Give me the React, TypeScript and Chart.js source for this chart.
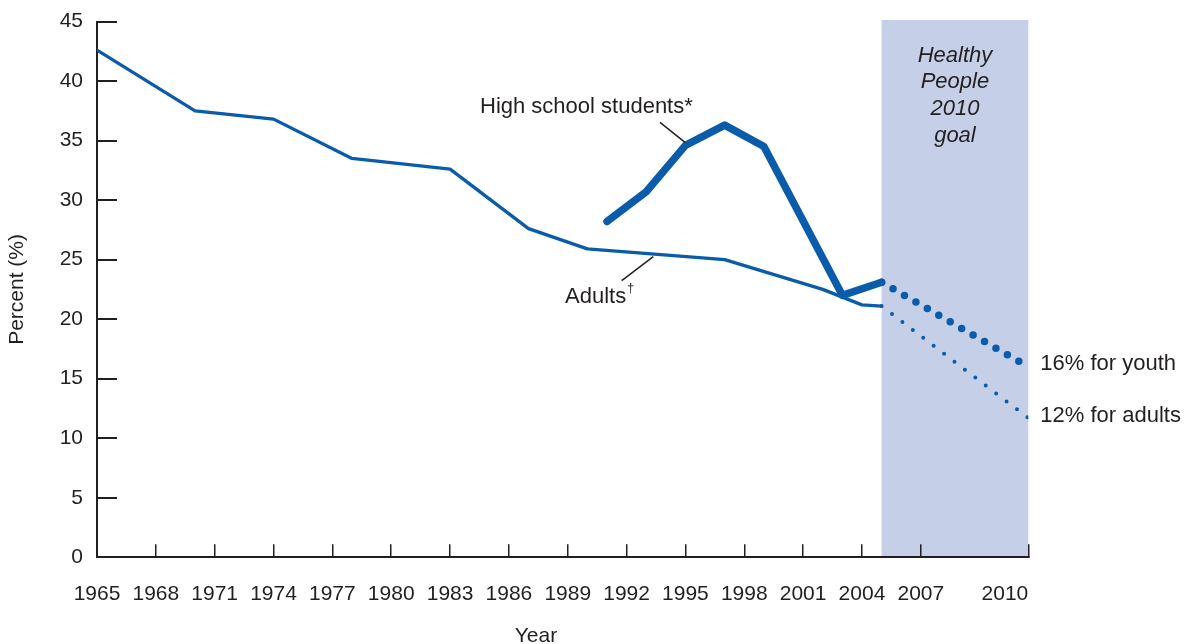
import React, { useEffect, useRef } from "react";
import { Chart, registerables, LinearScale } from "chart.js";

// ---------- data ----------
const ADULT_YEARS = [1965, 1970, 1974, 1978, 1983, 1987, 1990, 1997, 2002, 2004, 2005];
const ADULT_VALUES = [42.6, 37.5, 36.8, 33.5, 32.6, 27.6, 25.9, 25.0, 22.5, 21.2, 21.1];

const HS_YEARS = [1991, 1993, 1995, 1997, 1999, 2003, 2005];
const HS_VALUES = [28.2, 30.7, 34.6, 36.3, 34.5, 22.0, 23.1];

const GOAL_YEARS = [2005, 2010];
const YOUTH_GOAL_VALUES = [23.1, 16.0];
const ADULT_GOAL_VALUES = [21.1, 11.7];

const X_TICKS = [1965, 1968, 1971, 1974, 1977, 1980, 1983, 1986, 1989, 1992, 1995, 1998, 2001, 2004, 2007, 2010];
const Y_MIN = 0;
const Y_MAX = 45;
const Y_STEP = 5;

const GOAL_PERIOD_START = 2005;
const GOAL_LABELS = ["Healthy", "People", "2010", "goal"];
const YOUTH_GOAL_LABEL = "16% for youth";
const ADULT_GOAL_LABEL = "12% for adults";

// ---------- styles ----------
const BLUE = "#0a5caa";
const INK = "#231f20";
const SHADE = "#c5cfe8";
const FONT = "'Liberation Sans', Arial, Helvetica, sans-serif";

// The original axis is linear up to 2007, then compressed to reach 2010 at the axis end.
const AXIS_BREAK = 2007;
const BREAK_FRACTION = 42 / 47.48;

class BrokenLinearScale extends LinearScale {
  static id = "brokenLinear";
  static defaults = LinearScale.defaults;

  getPixelForValue(value: any) {
    if (value === null || value === undefined || isNaN(value)) return NaN;
    const min = (this as any).min;
    const max = (this as any).max;
    let dec: number;
    if (value <= AXIS_BREAK) {
      dec = ((value - min) / (AXIS_BREAK - min)) * BREAK_FRACTION;
    } else {
      dec = BREAK_FRACTION + ((value - AXIS_BREAK) / (max - AXIS_BREAK)) * (1 - BREAK_FRACTION);
    }
    return (this as any).getPixelForDecimal(dec);
  }

  getValueForPixel(pixel: number) {
    const dec = (this as any).getDecimalForPixel(pixel);
    const min = (this as any).min;
    const max = (this as any).max;
    if (dec <= BREAK_FRACTION) {
      return min + (dec / BREAK_FRACTION) * (AXIS_BREAK - min);
    }
    return AXIS_BREAK + ((dec - BREAK_FRACTION) / (1 - BREAK_FRACTION)) * (max - AXIS_BREAK);
  }
}

Chart.register(...registerables);
Chart.register(BrokenLinearScale as any);

const toPoints = (xs: number[], ys: number[]) => xs.map((x, i) => ({ x, y: ys[i] }));

const decorPlugin = {
  id: "decor",
  beforeDraw(chart: any) {
    const { ctx, chartArea, scales } = chart;
    const x0 = scales.x.getPixelForValue(GOAL_PERIOD_START);
    ctx.save();
    ctx.fillStyle = SHADE;
    ctx.fillRect(x0, chartArea.top - 1.5, chartArea.right - x0, chartArea.bottom - chartArea.top + 1.5);
    ctx.restore();
  },
  afterDraw(chart: any) {
    const { ctx, chartArea, scales } = chart;
    const xs = scales.x;
    ctx.save();
    ctx.fillStyle = INK;
    ctx.strokeStyle = INK;

    // x tick labels
    ctx.font = `21px ${FONT}`;
    ctx.textBaseline = "alphabetic";
    X_TICKS.forEach((v, i) => {
      const px = xs.getPixelForValue(v);
      ctx.textAlign = i === X_TICKS.length - 1 ? "right" : "center";
      ctx.fillText(String(v), px, chartArea.bottom + 43);
    });

    // x axis title
    ctx.textAlign = "center";
    ctx.fillText("Year", 536, 641.5);

    // goal period caption
    ctx.font = `italic 22px ${FONT}`;
    const cx = (xs.getPixelForValue(GOAL_PERIOD_START) + chartArea.right) / 2;
    GOAL_LABELS.forEach((t, i) => {
      ctx.fillText(t, cx, 61.7 + i * 26.7);
    });

    // goal labels
    ctx.font = `22px ${FONT}`;
    ctx.textAlign = "left";
    ctx.fillText(YOUTH_GOAL_LABEL, chartArea.right + 12, 369.5);
    ctx.fillText(ADULT_GOAL_LABEL, chartArea.right + 12, 421.7);

    // series labels
    ctx.fillText("High school students*", 480, 113.3);
    ctx.fillText("Adults", 565, 302.7);
    ctx.font = `13px ${FONT}`;
    ctx.fillText("\u2020", 627, 292);

    // leader lines
    ctx.lineWidth = 1.5;
    ctx.beginPath();
    ctx.moveTo(660, 122.3);
    ctx.lineTo(685, 142.3);
    ctx.moveTo(621.7, 280.7);
    ctx.lineTo(653.3, 256.7);
    ctx.stroke();

    ctx.restore();
  },
};

export default function App() {
  const ref = useRef<HTMLCanvasElement | null>(null);

  useEffect(() => {
    if (!ref.current) return;
    const chart = new Chart(ref.current, {
      type: "line",
      data: {
        datasets: [
          {
            label: "Adults",
            data: toPoints(ADULT_YEARS, ADULT_VALUES),
            borderColor: BLUE,
            borderWidth: 3.3,
            pointRadius: 0,
            borderJoinStyle: "round",
            borderCapStyle: "round",
            tension: 0,
          },
          {
            label: "High school students",
            data: toPoints(HS_YEARS, HS_VALUES),
            borderColor: BLUE,
            borderWidth: 7.5,
            pointRadius: 0,
            borderJoinStyle: "round",
            borderCapStyle: "round",
            tension: 0,
          },
          {
            label: "Youth goal",
            data: toPoints(GOAL_YEARS, YOUTH_GOAL_VALUES),
            borderColor: BLUE,
            borderWidth: 7.5,
            borderDash: [0, 13.2],
            borderCapStyle: "round",
            pointRadius: 0,
            tension: 0,
          },
          {
            label: "Adult goal",
            data: toPoints(GOAL_YEARS, ADULT_GOAL_VALUES),
            borderColor: BLUE,
            borderWidth: 4,
            borderDash: [0, 13.1],
            borderCapStyle: "round",
            pointRadius: 0,
            tension: 0,
          },
        ],
      },
      options: {
        animation: false,
        responsive: false,
        events: [],
        layout: { padding: { top: 21.5, right: 1187 - 1028.3, left: 0, bottom: 0 } },
        plugins: { legend: { display: false }, tooltip: { enabled: false } },
        scales: {
          x: {
            type: "brokenLinear" as any,
            min: X_TICKS[0],
            max: X_TICKS[X_TICKS.length - 1],
            afterBuildTicks: (s: any) => {
              s.ticks = X_TICKS.map((v) => ({ value: v }));
            },
            afterFit: (s: any) => {
              s.height = 644 - 557.3;
              s.paddingLeft = 0;
              s.paddingRight = 0;
            },
            grid: { drawOnChartArea: false, drawTicks: true, tickLength: -13, color: INK, lineWidth: 1.5 },
            border: { color: INK, width: 2 },
            ticks: { display: false },
          },
          y: {
            min: Y_MIN,
            max: Y_MAX,
            afterFit: (s: any) => {
              s.width = 97;
              s.paddingTop = 0;
              s.paddingBottom = 0;
            },
            ticks: { stepSize: Y_STEP, color: INK, font: { size: 21, family: FONT }, padding: 34 },
            grid: { drawOnChartArea: false, drawTicks: true, tickLength: -20, color: INK, lineWidth: 2 },
            border: { color: INK, width: 2 },
            title: {
              display: true,
              text: "Percent (%)",
              color: INK,
              font: { size: 21, family: FONT },
              padding: { top: 5, bottom: 0 },
            },
          },
        },
      } as any,
      plugins: [decorPlugin],
    });
    return () => chart.destroy();
  }, []);

  return (
    <div style={{ position: "absolute", left: 0, top: 0, width: 1187, height: 644 }}>
      <canvas ref={ref} width={1187} height={644} style={{ display: "block" }} />
    </div>
  );
}
